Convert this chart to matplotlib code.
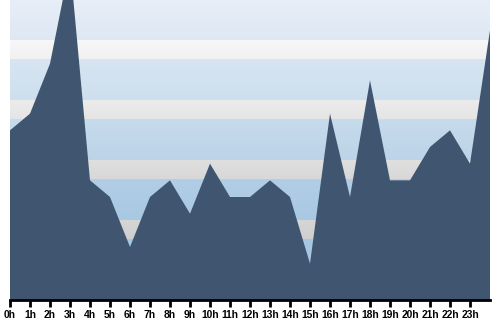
import numpy as np
import matplotlib
matplotlib.use("Agg")
import matplotlib.pyplot as plt
from matplotlib.colors import to_rgb

# hourly counts, 0h..23h plus the closing point at 24h
hours = list(range(25))
counts = [10, 11, 14, 20, 7, 6, 3, 6, 7, 5, 8, 6, 6, 7, 6, 2, 11, 6, 13, 7, 7, 9, 10, 8, 16]
tick_labels = [f"{h}h" for h in range(24)]

# background stripes: (top px, bottom px, top colour, bottom colour)
bands = [
    (0, 40, "#e7eef7", "#dee8f3"),
    (40, 59, "#f7f7f7", "#f1f1f1"),
    (59, 100, "#d7e5f2", "#cddfee"),
    (100, 119, "#ebebeb", "#e5e5e5"),
    (119, 160, "#c6dbec", "#bcd4e8"),
    (160, 179, "#dfdfdf", "#d8d8d8"),
    (179, 220, "#b2cee6", "#a9c8e2"),
    (220, 239, "#d5d5d5", "#cfcfcf"),
    (239, 300, "#a8c7e2", "#a4c4e0"),
]

bg = np.zeros((300, 1, 3))
for top, bot, c1, c2 in bands:
    n = bot - top
    a, b = np.array(to_rgb(c1)), np.array(to_rgb(c2))
    for i in range(n):
        bg[top + i, 0] = a + (b - a) * i / max(n - 1, 1)

fig = plt.figure(figsize=(5, 3.2), dpi=100)
ax = fig.add_axes([0.02, 20 / 320, 0.96, 300 / 320])

ax.imshow(bg, extent=(0, 1, 0, 1), transform=ax.transAxes, aspect="auto",
          interpolation="nearest", zorder=0)
ax.fill_between(hours, counts, -1, color="#405670", linewidth=0, zorder=2)

ax.set_xlim(0, 24)
ax.set_ylim(-0.18, 17.82)
ax.set_xticks(range(24))
ax.set_xticklabels(tick_labels, fontsize=7.4, fontweight="bold",
                   family=["Liberation Sans", "DejaVu Sans"])
ax.tick_params(axis="x", length=5, width=2, pad=2.5, color="black")
ax.set_yticks([])
for s in ["top", "left", "right"]:
    ax.spines[s].set_visible(False)
ax.spines["bottom"].set_linewidth(2)
ax.spines["bottom"].set_zorder(3)

fig.savefig("out.png", dpi=100)
